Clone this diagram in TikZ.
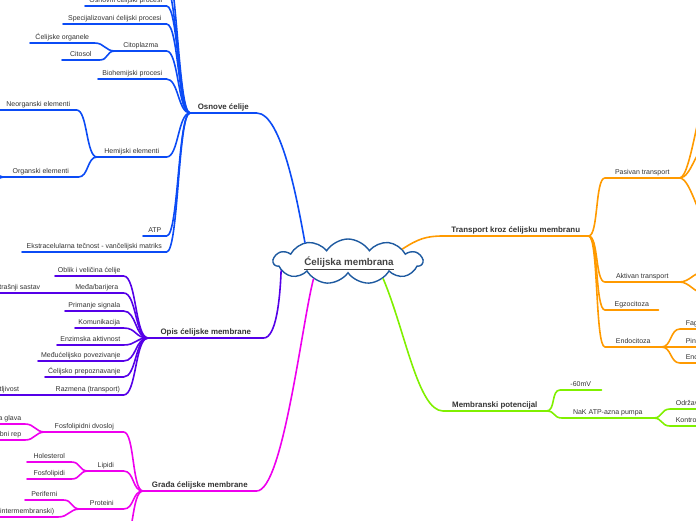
\documentclass[tikz,border=0pt]{standalone}
\usepackage{fontspec}
\setmainfont{Liberation Sans}
\usetikzlibrary{shapes.symbols}
\definecolor{bbranch}{HTML}{0B4BF5}
\definecolor{pbranch}{HTML}{5500E8}
\definecolor{mbranch}{HTML}{EE00EE}
\definecolor{obranch}{HTML}{FF9A00}
\definecolor{gbranch}{HTML}{80F000}
\definecolor{cloudline}{HTML}{1E5AA0}
\definecolor{txtgray}{HTML}{333333}
\definecolor{rootgray}{HTML}{444444}

\begin{document}
\begin{tikzpicture}[x=1pt,y=-1pt,line width=1.6pt,line cap=round,
  topic/.style={font=\fontsize{7}{8}\selectfont,text=txtgray,anchor=south west,
    inner xsep=0pt,inner ysep=1.6pt,text height=5pt,text depth=1.4pt},
  maintopic/.style={topic,font=\fontsize{7.9}{9}\selectfont\bfseries},
  lefttopic/.style={topic,anchor=south east,inner xsep=3pt},
  righttopic/.style={topic,inner xsep=5pt}]
\useasboundingbox (0,0) rectangle (696,520);
\clip (0,0) rectangle (696,520);
% ---------- centre ----------
\node[cloud,cloud puffs=11,cloud puff arc=115,aspect=3.4,draw=cloudline,line width=1.4pt,
  fill=white,minimum width=149pt,minimum height=45pt,inner sep=0pt] (root) at (348,261.5) {};
\node[font=\fontsize{9.8}{11}\selectfont\bfseries,text=rootgray] (roottxt) at (349,263) {\underline{Ćelijska membrana}};
% ---------- Osnove ćelije ----------
\node[maintopic,minimum width=65pt] (osn) at (190,113) {Osnove ćelije};
\draw[bbranch] (osn.south west) -- (osn.south east) .. controls (282,113) and (298,205) .. (root.156);
\coordinate (osn-up1) at (165,-38);
\coordinate (osn-up2) at (165,-16);
\draw[bbranch] (osn-up1) .. controls +(12,0) and +(-12,0) .. (osn.south west);
\draw[bbranch] (osn-up2) .. controls +(12,0) and +(-12,0) .. (osn.south west);
\node[topic,minimum width=80pt] (osnp) at (85,6) {Osnovni ćelijski procesi};
\draw[bbranch] (osnp.south west) -- (osnp.south east) .. controls +(12,0) and +(-12,0) .. (osn.south west);
\node[topic,minimum width=102pt] (spec) at (63,24) {Specijalizovani ćelijski procesi};
\draw[bbranch] (spec.south west) -- (spec.south east) .. controls +(12,0) and +(-12,0) .. (osn.south west);
\node[topic,minimum width=50pt] (cito) at (115,51) {Citoplazma};
\draw[bbranch] (cito.south west) -- (cito.south east) .. controls +(12,0) and +(-12,0) .. (osn.south west);
\node[topic,minimum width=63pt] (organ) at (30,43) {Ćelijske organele};
\draw[bbranch] (organ.south west) -- (organ.south east) .. controls +(10,0) and +(-10,0) .. (cito.south west);
\node[topic,minimum width=36pt] (cytos) at (62,60) {Citosol};
\draw[bbranch] (cytos.south west) -- (cytos.south east) .. controls +(9,0) and +(-9,0) .. (cito.south west);
\node[topic,minimum width=67pt] (bio) at (98,79) {Biohemijski procesi};
\draw[bbranch] (bio.south west) -- (bio.south east) .. controls +(12,0) and +(-12,0) .. (osn.south west);
\node[topic,minimum width=68pt] (hem) at (97,157) {Hemijski elementi};
\draw[bbranch] (hem.south west) -- (hem.south east) .. controls +(12,0) and +(-12,0) .. (osn.south west);
\node[topic,minimum width=75pt] (neorg) at (0,110) {Neorganski elementi};
\draw[bbranch] (neorg.south west) -- (neorg.south east) .. controls +(11,0) and +(-11,0) .. (hem.south west);
\node[topic,minimum width=74pt] (orgel) at (3,177) {Organski elementi};
\draw[bbranch] (orgel.south west) -- (orgel.south east) .. controls +(10,0) and +(-10,0) .. (hem.south west);
\coordinate (orgel-a) at (-14,150);
\coordinate (orgel-b) at (-14,204);
\draw[bbranch] (orgel-a) .. controls +(12,0) and +(-12,0) .. (orgel.south west);
\draw[bbranch] (orgel-b) .. controls +(12,0) and +(-12,0) .. (orgel.south west);
\node[topic,minimum width=22pt] (atp) at (143,236) {ATP};
\draw[bbranch] (atp.south west) -- (atp.south east) .. controls +(12,0) and +(-12,0) .. (osn.south west);
\node[topic,minimum width=143pt] (ekst) at (22,252) {Ekstracelularna tečnost - vančelijski matriks};
\draw[bbranch] (ekst.south west) -- (ekst.south east) .. controls +(12,0) and +(-12,0) .. (osn.south west);
% ---------- Opis ćelijske membrane ----------
\node[maintopic,minimum width=114pt] (opis) at (148,338) {Opis ćelijske membrane};
\draw[pbranch] (opis.south west) -- (opis.south east) .. controls (276,338) and (280,300) .. (root.188);
\node[topic,minimum width=67pt] (oblik) at (55,276) {Oblik i veličina ćelije};
\draw[pbranch] (oblik.south west) -- (oblik.south east) .. controls +(13,0) and +(-13,0) .. (opis.south west);
\node[topic,minimum width=52pt] (meda) at (70,293) {Međa/barijera};
\draw[pbranch] (meda.south west) -- (meda.south east) .. controls +(13,0) and +(-13,0) .. (opis.south west);
\node[lefttopic] (unutr) at (44,293) {Unutrašnji sastav};
\draw[pbranch] (unutr.south west) -- (unutr.south east) .. controls +(12,0) and +(-12,0) .. (meda.south west);
\node[topic,minimum width=57pt] (signal) at (65,311) {Primanje signala};
\draw[pbranch] (signal.south west) -- (signal.south east) .. controls +(13,0) and +(-13,0) .. (opis.south west);
\node[topic,minimum width=47pt] (komun) at (75,328) {Komunikacija};
\draw[pbranch] (komun.south west) -- (komun.south east) .. controls +(13,0) and +(-13,0) .. (opis.south west);
\node[topic,minimum width=65pt] (enzim) at (57,345) {Enzimska aktivnost};
\draw[pbranch] (enzim.south west) -- (enzim.south east) .. controls +(13,0) and +(-13,0) .. (opis.south west);
\node[topic,minimum width=84pt] (povez) at (38,361) {Međućelijsko povezivanje};
\draw[pbranch] (povez.south west) -- (povez.south east) .. controls +(13,0) and +(-13,0) .. (opis.south west);
\node[topic,minimum width=77pt] (prepoz) at (45,377) {Ćelijsko prepoznavanje};
\draw[pbranch] (prepoz.south west) -- (prepoz.south east) .. controls +(13,0) and +(-13,0) .. (opis.south west);
\node[topic,minimum width=70pt] (razmena) at (52,395) {Razmena (transport)};
\draw[pbranch] (razmena.south west) -- (razmena.south east) .. controls +(13,0) and +(-13,0) .. (opis.south west);
\node[lefttopic] (propust) at (23,395) {Selektivna propustljivost};
\draw[pbranch] (propust.south west) -- (propust.south east) .. controls +(12,0) and +(-12,0) .. (razmena.south west);
% ---------- Građa ćelijske membrane ----------
\node[maintopic,minimum width=112pt] (gradja) at (143,491) {Građa ćelijske membrane};
\draw[mbranch] (gradja.south west) -- (gradja.south east) .. controls (283,491) and (302,322) .. (root.207);
\node[topic,minimum width=77pt] (dvosloj) at (45,432) {Fosfolipidni dvosloj};
\draw[mbranch] (dvosloj.south west) -- (dvosloj.south east) .. controls +(11,0) and +(-11,0) .. (gradja.south west);
\node[lefttopic] (glava) at (25,424) {Hidrofilna glava};
\draw[mbranch] (glava.south west) -- (glava.south east) .. controls +(10,0) and +(-10,0) .. (dvosloj.south west);
\node[lefttopic] (rep) at (25,440) {Hidrofobni rep};
\draw[mbranch] (rep.south west) -- (rep.south east) .. controls +(10,0) and +(-10,0) .. (dvosloj.south west);
\node[topic,minimum width=34pt] (lipidi) at (88,471) {Lipidi};
\draw[mbranch] (lipidi.south west) -- (lipidi.south east) .. controls +(11,0) and +(-11,0) .. (gradja.south west);
\node[topic,minimum width=43pt] (holest) at (27,462) {Holesterol};
\draw[mbranch] (holest.south west) -- (holest.south east) .. controls +(9,0) and +(-9,0) .. (lipidi.south west);
\node[topic,minimum width=43pt] (fosfo) at (27,479) {Fosfolipidi};
\draw[mbranch] (fosfo.south west) -- (fosfo.south east) .. controls +(9,0) and +(-9,0) .. (lipidi.south west);
\node[topic,minimum width=42pt] (protein) at (80,509) {Proteini};
\draw[mbranch] (protein.south west) -- (protein.south east) .. controls +(11,0) and +(-11,0) .. (gradja.south west);
\node[topic,minimum width=37pt] (perif) at (25,500) {Periferni};
\draw[mbranch] (perif.south west) -- (perif.south east) .. controls +(9,0) and +(-9,0) .. (protein.south west);
\node[lefttopic] (integr) at (58,517) {Integralni (intermembranski)};
\draw[mbranch] (integr.south west) -- (integr.south east) .. controls +(11,0) and +(-11,0) .. (protein.south west);
\coordinate (gradja-dn) at (122,546);
\draw[mbranch] (gradja-dn) .. controls +(12,0) and +(-12,0) .. (gradja.south west);
% ---------- Transport kroz ćelijsku membranu ----------
\node[maintopic,minimum width=144pt] (transp) at (443,236) {Transport kroz ćelijsku membranu};
\draw[obranch] (root.13) .. controls (418,239) and (426,236) .. (transp.south west) -- (transp.south east);
\node[topic,minimum width=73pt] (pasiv) at (605,178) {Pasivan transport};
\draw[obranch] (transp.south east) .. controls +(10,0) and +(-10,0) .. (pasiv.south west) -- (pasiv.south east);
\coordinate (pasiv-a) at (712,85);
\coordinate (pasiv-b) at (708,146);
\coordinate (pasiv-c) at (712,228);
\draw[obranch] (pasiv.south east) .. controls +(12,0) and +(-12,0) .. (pasiv-a);
\draw[obranch] (pasiv.south east) .. controls +(12,0) and +(-12,0) .. (pasiv-b);
\draw[obranch] (pasiv.south east) .. controls +(12,0) and +(-12,0) .. (pasiv-c);
\node[topic,minimum width=73pt] (aktiv) at (605,282) {Aktivan transport};
\draw[obranch] (transp.south east) .. controls +(10,0) and +(-10,0) .. (aktiv.south west) -- (aktiv.south east);
\coordinate (aktiv-a) at (704,272);
\coordinate (aktiv-b) at (704,293);
\draw[obranch] (aktiv.south east) .. controls +(10,0) and +(-10,0) .. (aktiv-a);
\draw[obranch] (aktiv.south east) .. controls +(10,0) and +(-10,0) .. (aktiv-b);
\node[topic,minimum width=52pt] (egzo) at (605,310) {Egzocitoza};
\draw[obranch] (transp.south east) .. controls +(10,0) and +(-10,0) .. (egzo.south west) -- (egzo.south east);
\node[topic,minimum width=55pt] (endo) at (605,347) {Endocitoza};
\draw[obranch] (transp.south east) .. controls +(10,0) and +(-10,0) .. (endo.south west) -- (endo.south east);
\node[righttopic] (fago) at (680,329) {Fagocitoza};
\draw[obranch] (endo.south east) .. controls +(10,0) and +(-10,0) .. (fago.south west) -- (fago.south east);
\node[righttopic] (pino) at (680,347) {Pinocitoza};
\draw[obranch] (endo.south east) .. controls +(10,0) and +(-10,0) .. (pino.south west) -- (pino.south east);
\node[righttopic] (recep) at (680,363) {Endocitoza posredovana receptorima};
\draw[obranch] (endo.south east) .. controls +(10,0) and +(-10,0) .. (recep.south west) -- (recep.south east);
% ---------- Membranski potencijal ----------
\node[maintopic,minimum width=102pt] (membp) at (443,411) {Membranski potencijal};
\draw[gbranch] (root.334) .. controls (405,330) and (418,411) .. (membp.south west) -- (membp.south east);
\node[topic,minimum width=40pt] (mv) at (560,390) {-60mV};
\draw[gbranch] (membp.south east) .. controls +(9,0) and +(-9,0) .. (mv.south west) -- (mv.south east);
\node[topic,minimum width=90pt] (nak) at (562,418) {NaK ATP-azna pumpa};
\draw[gbranch] (membp.south east) .. controls +(9,0) and +(-9,0) .. (nak.south west) -- (nak.south east);
\node[righttopic] (odrz) at (670,409) {Održavanje};
\draw[gbranch] (nak.south east) .. controls +(9,0) and +(-9,0) .. (odrz.south west) -- (odrz.south east);
\node[righttopic] (kontr) at (670,426) {Kontrola};
\draw[gbranch] (nak.south east) .. controls +(9,0) and +(-9,0) .. (kontr.south west) -- (kontr.south east);
\end{tikzpicture}
\end{document}
